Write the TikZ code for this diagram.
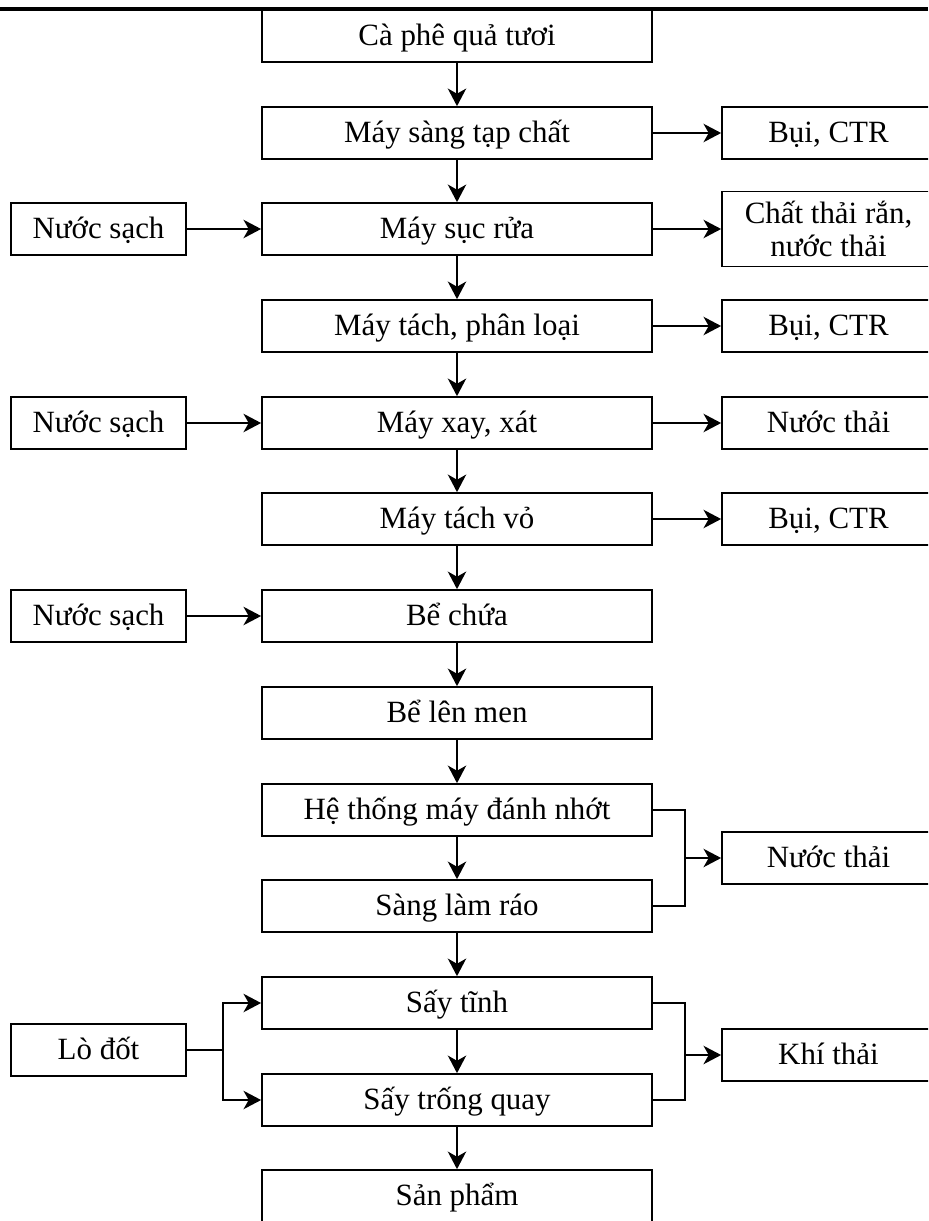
\documentclass[tikz,border=0pt]{standalone}
\usepackage{fontspec}
\setmainfont{Liberation Serif}
\usetikzlibrary{arrows.meta}

\begin{document}
\begin{tikzpicture}[x=0.025cm,y=-0.025cm,
            box/.style={draw,line width=1.2pt,minimum width=9.75cm,minimum height=1.3cm,
                        inner sep=0pt,text height=17pt,text depth=3pt,
                        font=\fontsize{22}{23}\selectfont},
            side/.style={box,minimum width=5.325cm},
            src/.style={box,minimum width=4.375cm},
            line/.style={line width=1.2pt},
            arr/.style={line,-{Stealth[length=0.44cm,width=0.46cm,inset=0.13cm]}}
            ]
            \useasboundingbox (0,0) rectangle (928,1221);
            \clip (0,0) rectangle (928,1221);

            % rule at the top of the page
            \draw[line width=2.2pt] (0,9) -- (928,9);

            % main line
            \node[box] (b1)  at (457,36)   {Cà phê quả tươi};
            \node[box] (b2)  at (457,133)  {Máy sàng tạp chất};
            \node[box] (b3)  at (457,229)  {Máy sục rửa};
            \node[box] (b4)  at (457,326)  {Máy tách, phân loại};
            \node[box] (b5)  at (457,423)  {Máy xay, xát};
            \node[box] (b6)  at (457,519)  {Máy tách vỏ};
            \node[box] (b7)  at (457,616)  {Bể chứa};
            \node[box] (b8)  at (457,713)  {Bể lên men};
            \node[box] (b9)  at (457,810)  {Hệ thống máy đánh nhớt};
            \node[box] (b10) at (457,906)  {Sàng làm ráo};
            \node[box] (b11) at (457,1003) {Sấy tĩnh};
            \node[box] (b12) at (457,1100) {Sấy trống quay};
            \node[box] (b13) at (457,1196) {Sản phẩm};

            % inputs
            \node[src] (w1) at (98.5,229)  {Nước sạch};
            \node[src] (w2) at (98.5,423)  {Nước sạch};
            \node[src] (w3) at (98.5,616)  {Nước sạch};
            \node[src] (lo) at (98.5,1050) {Lò đốt};

            % outputs
            \node[side] (r1) at (828.5,133) {Bụi, CTR};
            \node[side,minimum height=1.875cm,align=center,text height={},text depth={}] (r2) at (828.5,229) {Chất thải rắn,\\nước thải};
            \node[side] (r3) at (828.5,326) {Bụi, CTR};
            \node[side] (r4) at (828.5,423) {Nước thải};
            \node[side] (r5) at (828.5,519) {Bụi, CTR};
            \node[side] (r6) at (828.5,858) {Nước thải};
            \node[side] (r7) at (828.5,1055) {Khí thải};

            \coordinate (j1) at (685,858);
            \coordinate (j2) at (685,1055);
            \coordinate (j3) at (223,1050);

            % down the main line
            \draw[arr] (b1) -- (b2);
            \draw[arr] (b2) -- (b3);
            \draw[arr] (b3) -- (b4);
            \draw[arr] (b4) -- (b5);
            \draw[arr] (b5) -- (b6);
            \draw[arr] (b6) -- (b7);
            \draw[arr] (b7) -- (b8);
            \draw[arr] (b8) -- (b9);
            \draw[arr] (b9) -- (b10);
            \draw[arr] (b10) -- (b11);
            \draw[arr] (b11) -- (b12);
            \draw[arr] (b12) -- (b13);

            % side arrows
            \draw[arr] (w1) -- (b3);
            \draw[arr] (w2) -- (b5);
            \draw[arr] (w3) -- (b7);
            \draw[arr] (b2) -- (r1);
            \draw[arr] (b3) -- (r2);
            \draw[arr] (b4) -- (r3);
            \draw[arr] (b5) -- (r4);
            \draw[arr] (b6) -- (r5);

            % joined branches
            \draw[line] (b9.east) -| (j1) |- (b10.east);
            \draw[arr] (j1) -- (r6);
            \draw[line] (b11.east) -| (j2) |- (b12.east);
            \draw[arr] (j2) -- (r7);
            \draw[line] (lo) -- (j3);
            \draw[arr] (j3) |- (b11.west);
            \draw[arr] (j3) |- (b12.west);
\end{tikzpicture}
\end{document}
